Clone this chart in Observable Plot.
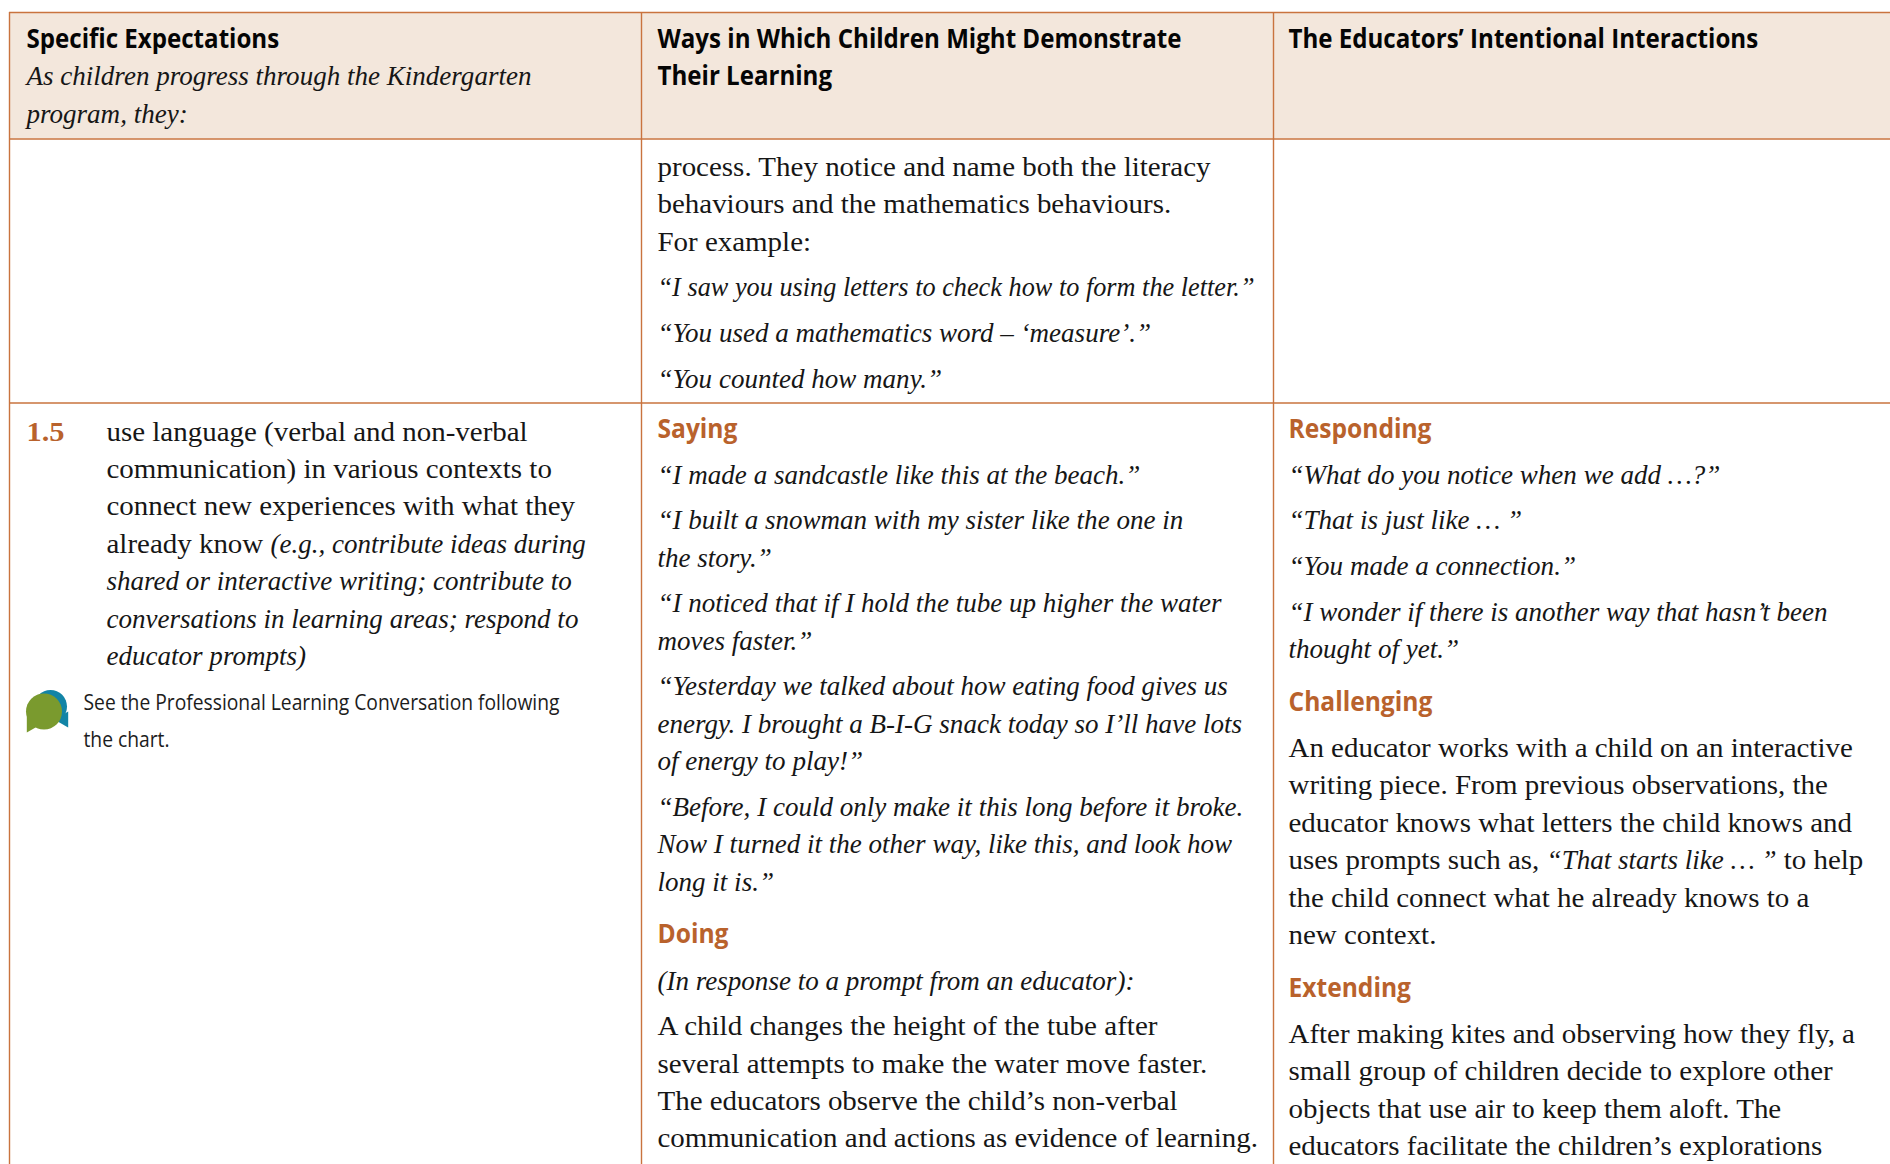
<!DOCTYPE html>
<html><head><meta charset="utf-8">
<style>html,body{margin:0;padding:0;background:#fff}svg{display:block}</style>
<script src="https://cdn.jsdelivr.net/npm/d3@7"></script>
<script src="https://cdn.jsdelivr.net/npm/@observablehq/plot@0.6"></script>
</head><body><div id="chart"></div>
<script>
// ---- table content ----
const headerCol1 = [["head", ["Specific Expectations"]], ["quote", ["As children progress through the Kindergarten", "program, they:"]]];
const headerCol2 = [["head", ["Ways in Which Children Might Demonstrate", "Their Learning"]]];
const headerCol3 = [["head", ["The Educators’ Intentional Interactions"]]];
const continuedCol2 = [
  ["body", ["process. They notice and name both the literacy", "behaviours and the mathematics behaviours.", "For example:"]],
  ["quote", ["“I saw you using letters to check how to form the letter.”"]],
  ["quote", ["“You used a mathematics word – ‘measure’.”"]],
  ["quote", ["“You counted how many.”"]]
];
const expectationNumber = "1.5";
const expectationText = [["body", [
  "use language (verbal and non-verbal",
  "communication) in various contexts to",
  "connect new experiences with what they",
  "already know *(e.g., contribute ideas during*",
  "*shared or interactive writing; contribute to*",
  "*conversations in learning areas; respond to*",
  "*educator prompts)*"]]];
const noteText = [["note", ["See the Professional Learning Conversation following", "the chart."]]];
const demonstrateCol2 = [
  ["sub", ["Saying"]],
  ["quote", ["“I made a sandcastle like this at the beach.”"]],
  ["quote", ["“I built a snowman with my sister like the one in", "the story.”"]],
  ["quote", ["“I noticed that if I hold the tube up higher the water", "moves faster.”"]],
  ["quote", ["“Yesterday we talked about how eating food gives us", "energy. I brought a B-I-G snack today so I’ll have lots", "of energy to play!”"]],
  ["quote", ["“Before, I could only make it this long before it broke.", "Now I turned it the other way, like this, and look how", "long it is.”"]],
  ["sub", ["Doing"]],
  ["quote", ["(In response to a prompt from an educator):"]],
  ["body", ["A child changes the height of the tube after", "several attempts to make the water move faster.", "The educators observe the child’s non-verbal", "communication and actions as evidence of learning."]]
];
const interactionsCol3 = [
  ["sub", ["Responding"]],
  ["quote", ["“What do you notice when we add …?”"]],
  ["quote", ["“That is just like … ”"]],
  ["quote", ["“You made a connection.”"]],
  ["quote", ["“I wonder if there is another way that hasn’t been", "thought of yet.”"]],
  ["sub", ["Challenging"]],
  ["body", ["An educator works with a child on an interactive", "writing piece. From previous observations, the", "educator knows what letters the child knows and", "uses prompts such as, *“That starts like … ”* to help", "the child connect what he already knows to a", "new context."]],
  ["sub", ["Extending"]],
  ["body", ["After making kites and observing how they fly, a", "small group of children decide to explore other", "objects that use air to keep them aloft. The", "educators facilitate the children’s explorations"]]
];

// ---- layout and style ----
const W = 1890, H = 1164;
const colEdges = [9, 641, 1273];
const rowEdges = [12, 138.5, 402.5];
const textX = [26, 657, 1288], indentX = 106, noteX = 83;
const LEAD = 37.4;
const gapBefore = {quote: 45.6, body: 45.6, sub: 52.7, note: 43};
const afterSub = 46.3;
const SERIF = "'Liberation Serif'", SANS = "'Open Sans'";
const styles = {
  head:  {font: SANS,  size: 26, weight: 700, italic: false, fill: "#050505", ref: ["Ways in Which Children Might Demonstrate", 524]},
  sub:   {font: SANS,  size: 26, weight: 700, italic: false, fill: "#b9622c", ref: ["Responding", 143]},
  body:  {font: SERIF, size: 28, weight: 400, italic: false, fill: "#161616", ref: ["process. They notice and name both the literacy", 553]},
  quote: {font: SERIF, size: 27.5, weight: 400, italic: true, fill: "#161616", ref: ["“I noticed that if I hold the tube up higher the water", 564]},
  note:  {font: SANS,  size: 22, weight: 400, italic: false, fill: "#1c1c1c", ref: ["See the Professional Learning Conversation following", 476]},
  num:   {font: SERIF, size: 28, weight: 700, italic: false, fill: "#b9622c", ref: ["1.5", 38]}
};
const ctx = document.createElement("canvas").getContext("2d");
const fontOf = s => `${s.italic ? "italic " : ""}${s.weight} ${s.size}px ${s.font}`;
const measure = (t, s) => { ctx.font = fontOf(s); return ctx.measureText(t).width; };
for (const s of Object.values(styles)) s.ratio = s.ref[1] / measure(s.ref[0], s);
// one long quote is set tighter than the rest in the original
const tightLines = new Map([["“I saw you using letters to check how to form the letter.”", 597]]);
const runWidth = (t, s) => tightLines.get(t) ?? measure(t, s) * s.ratio;

// walk a cell's blocks into text rows; *...* runs switch to italic
function layout(blocks, x, y0) {
  const rows = [];
  let y = y0, first = true, prev = null;
  for (const [kind, lines] of blocks) {
    if (!first) y += prev === "sub" ? afterSub : prev === "head" ? LEAD : gapBefore[kind];
    lines.forEach((line, i) => {
      if (i) y += LEAD;
      let cx = x;
      line.split("*").forEach((run, j) => {
        if (!run) return;
        const k = j % 2 ? "quote" : kind;
        rows.push({kind: k, x: cx, y, text: run});
        cx += runWidth(run, styles[k]);
      });
    });
    first = false; prev = kind;
  }
  return rows;
}
const rows = [
  ...layout(headerCol1, textX[0], 47.5),
  ...layout(headerCol2, textX[1], 47.5),
  ...layout(headerCol3, textX[2], 47.5),
  ...layout(continuedCol2, textX[1], 175.5),
  ...layout([["num", [expectationNumber]]], textX[0], 440),
  ...layout(expectationText, indentX, 440),
  ...layout(noteText, noteX, 709),
  ...layout(demonstrateCol2, textX[1], 437),
  ...layout(interactionsCol3, textX[2], 437)
];
const kinds = Object.keys(styles);
const textMark = kind => {
  const s = styles[kind];
  return Plot.text(rows.filter(d => d.kind === kind), {
    x: "x", y: "y", text: "text", textAnchor: "start", lineAnchor: "bottom",
    fontFamily: s.font, fontSize: s.size, fontWeight: s.weight, fontStyle: s.italic ? "italic" : "normal",
    fill: s.fill
  });
};
const BORDER = "#c9733e";
const bubbles = [
  {x: 50, y: 706, r: 16.5, fill: "#1284a6"},
  {x: 43.5, y: 711, r: 18, fill: "#7a9a2e"}
];
const tails = [
  {x: 63, y: 719, fill: "#1284a6", rotate: 150},
  {x: 31, y: 724, fill: "#7a9a2e", rotate: 210}
];

const chart = Plot.plot({
  width: W, height: H, margin: 0,
  x: {type: "linear", domain: [0, W], range: [0, W], axis: null},
  y: {type: "linear", domain: [0, H], range: [0, H], axis: null},
  r: {type: "identity"},
  style: {background: "#fff"},
  marks: [
    Plot.rect([{x1: colEdges[0], x2: W, y1: rowEdges[0], y2: rowEdges[1]}], {x1: "x1", x2: "x2", y1: "y1", y2: "y2", fill: "#f3e7dc"}),
    Plot.ruleY(rowEdges, {x1: colEdges[0], x2: W, stroke: BORDER, strokeWidth: 1.4}),
    Plot.ruleX(colEdges, {y1: rowEdges[0], y2: H, stroke: BORDER, strokeWidth: 1.4}),
    Plot.dot(tails, {x: "x", y: "y", r: 6, symbol: "triangle", rotate: "rotate", fill: d => d.fill, sort: null}),
    Plot.dot(bubbles, {x: "x", y: "y", r: "r", fill: d => d.fill, sort: null}),
    ...kinds.map(textMark)
  ]
});
document.getElementById("chart").append(chart);
// squeeze each run horizontally so the substituted fonts match the original line widths
chart.querySelectorAll('g[aria-label="text"]').forEach((g, i) => {
  const s = styles[kinds[i]];
  g.querySelectorAll("text").forEach(t => {
    t.setAttribute("textLength", runWidth(t.textContent, s).toFixed(2));
    t.setAttribute("lengthAdjust", "spacingAndGlyphs");
  });
});
</script></body></html>
